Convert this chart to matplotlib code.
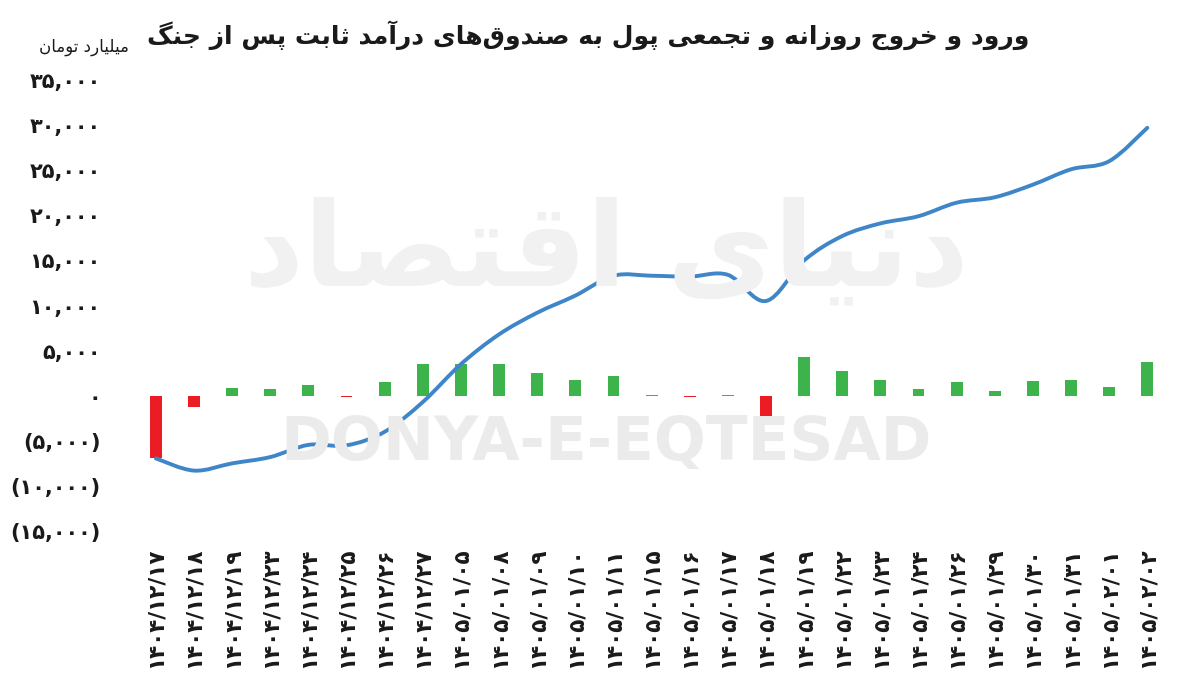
import numpy as np
import matplotlib
matplotlib.use("Agg")
import matplotlib.pyplot as plt
from matplotlib.path import Path
from matplotlib.patches import PathPatch

# داده‌ها (میلیارد تومان)
dates = ["1404/12/17", "1404/12/18", "1404/12/19", "1404/12/23", "1404/12/24",
         "1404/12/25", "1404/12/26", "1404/12/27", "1405/01/05", "1405/01/08",
         "1405/01/09", "1405/01/10", "1405/01/11", "1405/01/15", "1405/01/16",
         "1405/01/17", "1405/01/18", "1405/01/19", "1405/01/22", "1405/01/23",
         "1405/01/24", "1405/01/26", "1405/01/29", "1405/01/30", "1405/01/31",
         "1405/02/01", "1405/02/02"]
daily_flow = [-6900, -1300, 900, 750, 1200, -150, 1500, 3500, 3500, 3500,
              2500, 1700, 2200, 100, -150, 100, -2700, 4300, 2700, 1700,
              700, 1500, 500, 1600, 1700, 1000, 3700]
cumulative = [-6950, -8300, -7500, -6800, -5450, -5500, -4000, -700, 3500, 6800,
              9200, 11100, 13300, 13300, 13200, 13400, 10500, 15000, 17700, 19100,
              19900, 21400, 22000, 23400, 25100, 26000, 29700]
y_ticks = [35000, 30000, 25000, 20000, 15000, 10000, 5000, 0, -5000, -10000, -15000]

title = "ورود و خروج روزانه و تجمعی پول به صندوق‌های درآمد ثابت پس از جنگ"
unit = "میلیارد تومان"
watermark_fa = "دنیای اقتصاد"
watermark_en = "DONYA-E-EQTESAD"

# shaping for persian text (matplotlib has no bidi/joining)
FORMS = {
    "ا": ("\uFE8D", "\uFE8E"), "آ": ("\uFE81", "\uFE82"),
    "د": ("\uFEA9", "\uFEAA"), "ر": ("\uFEAD", "\uFEAE"),
    "ز": ("\uFEAF", "\uFEB0"), "و": ("\uFEED", "\uFEEE"),
    "ب": ("\uFE8F", "\uFE90", "\uFE91", "\uFE92"),
    "پ": ("\uFB56", "\uFB57", "\uFB58", "\uFB59"),
    "ت": ("\uFE95", "\uFE96", "\uFE97", "\uFE98"),
    "ث": ("\uFE99", "\uFE9A", "\uFE9B", "\uFE9C"),
    "ج": ("\uFE9D", "\uFE9E", "\uFE9F", "\uFEA0"),
    "خ": ("\uFEA5", "\uFEA6", "\uFEA7", "\uFEA8"),
    "س": ("\uFEB1", "\uFEB2", "\uFEB3", "\uFEB4"),
    "ص": ("\uFEB9", "\uFEBA", "\uFEBB", "\uFEBC"),
    "ع": ("\uFEC9", "\uFECA", "\uFECB", "\uFECC"),
    "ق": ("\uFED5", "\uFED6", "\uFED7", "\uFED8"),
    "گ": ("\uFB92", "\uFB93", "\uFB94", "\uFB95"),
    "ل": ("\uFEDD", "\uFEDE", "\uFEDF", "\uFEE0"),
    "م": ("\uFEE1", "\uFEE2", "\uFEE3", "\uFEE4"),
    "ن": ("\uFEE5", "\uFEE6", "\uFEE7", "\uFEE8"),
    "ه": ("\uFEE9", "\uFEEA", "\uFEEB", "\uFEEC"),
    "ی": ("\uFBFC", "\uFBFD", "\uFBFE", "\uFBFF"),
}


def shape_fa(text):
    out = []
    n = len(text)
    for i, ch in enumerate(text):
        if ch == "\u200c":
            continue
        if ch not in FORMS:
            out.append(ch)
            continue
        prev = text[i - 1] if i > 0 else ""
        nxt = text[i + 1] if i + 1 < n else ""
        join_prev = prev in FORMS and len(FORMS[prev]) == 4
        join_next = len(FORMS[ch]) == 4 and nxt in FORMS
        f = FORMS[ch]
        if join_prev and join_next:
            out.append(f[3])
        elif join_prev:
            out.append(f[1])
        elif join_next:
            out.append(f[2])
        else:
            out.append(f[0])
    return "".join(out)[::-1]


def fa_digits(s):
    return s.translate(str.maketrans("0123456789", "۰۱۲۳۴۵۶۷۸۹"))


def fmt_tick(v):
    s = fa_digits(f"{abs(v):,}")
    return f"({s})" if v < 0 else s


def smooth_path(xs, ys):
    pts = np.column_stack([xs, ys]).astype(float)
    verts = [pts[0]]
    codes = [Path.MOVETO]
    n = len(pts)
    for i in range(n - 1):
        p0 = pts[i - 1] if i > 0 else pts[i]
        p1 = pts[i]
        p2 = pts[i + 1]
        p3 = pts[i + 2] if i + 2 < n else pts[i + 1]
        verts += [p1 + (p2 - p0) / 6, p2 - (p3 - p1) / 6, p2]
        codes += [Path.CURVE4] * 3
    return Path(verts, codes)


plt.rcParams['font.family'] = ['DejaVu Sans']

fig = plt.figure(figsize=(12, 6.83), dpi=100)
ax = fig.add_axes([0.114, 0.2225, 0.858, 0.6604])

x = np.arange(len(dates))

# watermarks
fig.text(0.505, 0.63, shape_fa(watermark_fa), fontsize=84, color="#f1f1f1",
         ha="center", va="center", fontweight="bold", zorder=0)
fig.text(0.505, 0.35, watermark_en, fontsize=44, color="#ebebeb",
         ha="center", va="center", fontweight="bold", zorder=0)

colors = ["#3cb44b" if v >= 0 else "#ec1c24" for v in daily_flow]
ax.bar(x, daily_flow, width=0.31, color=colors, zorder=2)

line = PathPatch(smooth_path(x, cumulative), facecolor="none", edgecolor="#3f86c8",
                 linewidth=2.8, capstyle="round", zorder=3)
ax.add_patch(line)

ax.set_xlim(-0.5, len(dates) - 0.5)
ax.set_ylim(-15000, 35000)
ax.set_yticks(y_ticks)
ax.set_yticklabels([fmt_tick(v) for v in y_ticks], fontsize=15, fontweight="bold",
                   color="#1a1a1a")
ax.set_xticks(x)
ax.set_xticklabels([fa_digits(d) for d in dates], rotation=90, fontsize=15.5,
                   fontweight="bold", color="#1a1a1a")
ax.tick_params(axis="both", length=0)
ax.tick_params(axis="x", pad=12)
ax.tick_params(axis="y", pad=26)
for s in ax.spines.values():
    s.set_visible(False)
ax.patch.set_alpha(0)

fig.text(0.858, 0.948, shape_fa(title), fontsize=18, fontweight="bold",
         ha="right", va="center", color="#1a1a1a")
fig.text(0.107, 0.931, shape_fa(unit), fontsize=12, ha="right", va="center",
         color="#1a1a1a")

fig.savefig("out.png", dpi=100, facecolor="white")
